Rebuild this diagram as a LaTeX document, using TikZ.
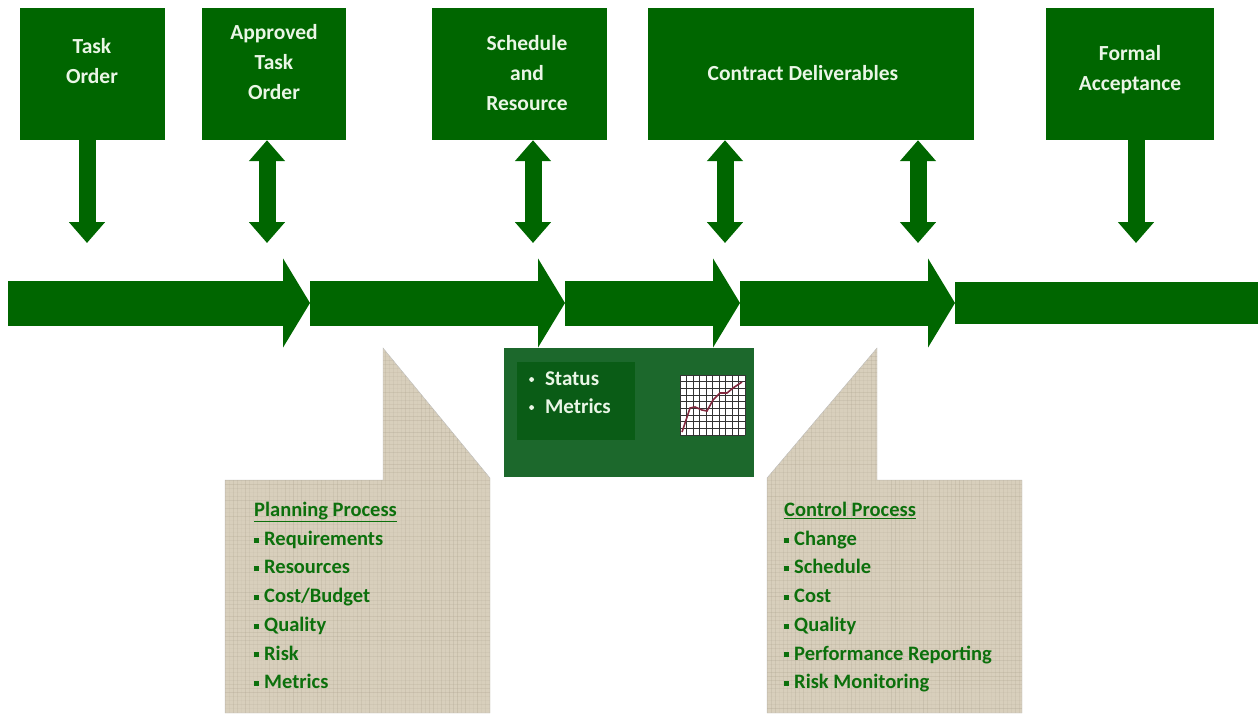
\documentclass[tikz,border=0pt]{standalone}
\usepackage{fontspec}
\setmainfont{Carlito}
\usetikzlibrary{arrows.meta}
\usetikzlibrary{positioning}

\definecolor{pmgreen}{RGB}{0,102,0}
\definecolor{boxwhite}{RGB}{234,246,230}
\definecolor{statusgreen}{RGB}{28,104,44}
\definecolor{statusdark}{RGB}{10,92,22}
\definecolor{burlap}{RGB}{216,207,188}
\definecolor{weave}{RGB}{170,160,140}
\definecolor{listgreen}{RGB}{12,112,12}
\definecolor{chartline}{RGB}{130,40,62}

\newcommand\sq{\raisebox{0.28ex}{\rule{5pt}{5pt}}\hspace{5pt}}
\newcommand\dotb{\raisebox{0.4ex}{\tikz\fill (0,0) circle (2.4pt);}\hspace{11pt}}

\begin{document}
\begin{tikzpicture}[x=1pt, y=-1pt, font=\bfseries]
  \tikzstyle{topbox}=[fill=pmgreen, minimum height=132pt, inner sep=0pt]
  \tikzstyle{boxtext}=[text=boxwhite, align=center, font=\fontsize{21.5}{30}\selectfont\bfseries]
  \tikzstyle{timeline}=[draw=pmgreen, line width=45pt, -{Triangle[width=88pt,length=27pt]}]
  \tikzstyle{down}=[draw=pmgreen, line width=17pt, -{Triangle[width=35pt,length=21pt]}]
  \tikzstyle{updown}=[draw=pmgreen, line width=17pt, {Triangle[width=35pt,length=21pt]}-{Triangle[width=35pt,length=21pt]}]
  \tikzstyle{callout}=[fill=burlap, draw=black!25, thin]
  \tikzstyle{listtext}=[text=listgreen, align=left, inner sep=0pt, font=\fontsize{20.5}{28.7}\selectfont\bfseries]

  \useasboundingbox (0,0) rectangle (1258,713);

  % top boxes
  \node[topbox, minimum width=145pt] (task)  at (92.5,74) {};
  \node[topbox, minimum width=144pt] (appr)  at (274,74)  {};
  \node[topbox, minimum width=175pt] (sched) at (519,74)  {};
  \node[topbox, minimum width=326pt] (deliv) at (810.5,74) {};
  \node[topbox, minimum width=168pt] (accept) at (1130,74) {};

  \node[boxtext] (task-txt)   at (92,61)   {Task\\Order};
  \node[boxtext] (appr-txt)   at (274,62)  {Approved\\Task\\Order};
  \node[boxtext] (sched-txt)  at (527,73)  {Schedule\\and\\Resource};
  \node[boxtext] (deliv-txt)  at (803,73)  {Contract Deliverables};
  \node[boxtext] (accept-txt) at (1130,70) {Formal\\Acceptance};

  % time line
  \coordinate (t0) at (8,303);
  \coordinate (t1) at (310,303);
  \coordinate (t2) at (565,303);
  \coordinate (t3) at (740,303);
  \coordinate (t4) at (955,303);
  \coordinate (t5) at (1258,303);
  \draw[timeline] (t0) -- (t1);
  \draw[timeline] (t1) -- (t2);
  \draw[timeline] (t2) -- (t3);
  \draw[timeline] (t3) -- (t4);
  \fill[pmgreen] ([yshift=21pt]t4) rectangle ([yshift=-21pt]t5);

  % arrows to the time line
  \coordinate (a1) at (87,243);
  \coordinate (a2) at (267,243);
  \coordinate (a3) at (533,243);
  \coordinate (a4) at (725,243);
  \coordinate (a5) at (918,243);
  \coordinate (a6) at (1136,243);
  \draw[down]   (task.south -| a1) -- (a1);
  \draw[updown] (appr.south -| a2) -- (a2);
  \draw[updown] (sched.south -| a3) -- (a3);
  \draw[updown] (deliv.south -| a4) -- (a4);
  \draw[updown] (deliv.south -| a5) -- (a5);
  \draw[down]   (accept.south -| a6) -- (a6);

  % status box
  \node[fill=statusgreen, minimum width=250pt, minimum height=129pt, inner sep=0pt] (status) at (629,412.5) {};
  \node[fill=statusdark, minimum width=118pt, minimum height=78pt, inner sep=0pt] (status-in) at (576,401) {};
  \node[text=boxwhite, align=left, inner sep=0pt, anchor=north west, font=\fontsize{21}{28}\selectfont\bfseries]
    (status-txt) at (529,372) {\dotb Status\\\dotb Metrics};
  \fill[white] (680,375) rectangle (745,435);
  \foreach \i in {0,...,10}
    \draw[black!80, line width=0.6pt] (680+6.5*\i,375) -- ++(0,60);
  \foreach \j in {0,...,9}
    \draw[black!80, line width=0.6pt] (680,375+6.667*\j) -- ++(65,0);
  \draw[chartline, line width=1.6pt] (682,432) -- (690,408) -- (695,407) -- (702,410) -- (707,411)
    -- (713,400) -- (720,393) -- (727,393) -- (733,388) -- (742,382);

  % call-outs
  \draw[callout] (225,480) -- (383,480) -- (383,348) -- (490,478) |- (225,713) -- cycle;
  \draw[callout] (767,478) -- (877,348) -- (877,480) -- (1022,480) |- (767,713) -- cycle;
  \pgfmathsetseed{7}
  \begin{scope}
    \clip (225,480) -- (383,480) -- (383,348) -- (490,478) |- (225,713) -- cycle;
    \foreach \k in {0,...,90}
      \draw[weave, line width=1pt, opacity={0.05+0.25*rnd}] (225,348+4*\k) -- ++(265,0);
    \foreach \k in {0,...,67}
      \draw[weave, line width=1pt, opacity={0.05+0.25*rnd}] (225+4*\k,348) -- ++(0,365);
  \end{scope}
  \begin{scope}
    \clip (767,478) -- (877,348) -- (877,480) -- (1022,480) |- (767,713) -- cycle;
    \foreach \k in {0,...,90}
      \draw[weave, line width=1pt, opacity={0.05+0.25*rnd}] (767,348+4*\k) -- ++(255,0);
    \foreach \k in {0,...,64}
      \draw[weave, line width=1pt, opacity={0.05+0.25*rnd}] (767+4*\k,348) -- ++(0,365);
  \end{scope}

  \node[listtext, anchor=north west] (plan) at (254,502)
    {\underline{Planning Process}\\\sq Requirements\\\sq Resources\\\sq Cost/Budget\\\sq Quality\\\sq Risk\\\sq Metrics};
  \node[listtext, anchor=north west] (ctrl) at (784,502)
    {\underline{Control Process}\\\sq Change\\\sq Schedule\\\sq Cost\\\sq Quality\\\sq Performance Reporting\\\sq Risk Monitoring};
\end{tikzpicture}
\end{document}
